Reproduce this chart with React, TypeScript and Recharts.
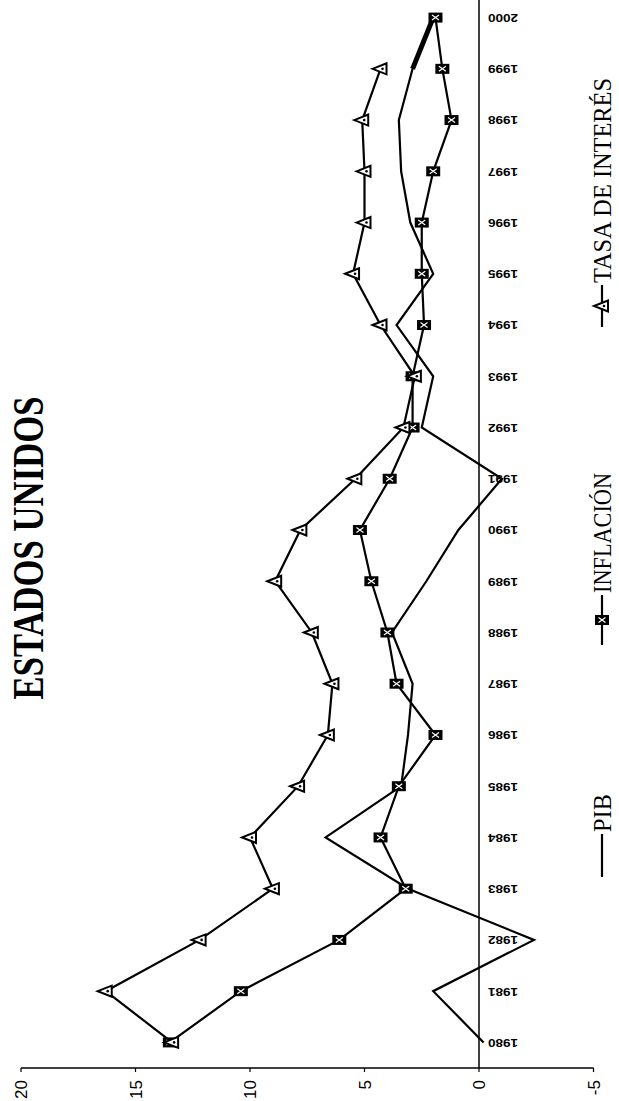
import React from 'react';
import { LineChart, Line, XAxis, YAxis, ReferenceLine, LabelList } from 'recharts';

// Years on the category axis
const years = [
  '1980', '1981', '1982', '1983', '1984', '1985', '1986', '1987', '1988', '1989', '1990',
  '1991', '1992', '1993', '1994', '1995', '1996', '1997', '1998', '1999', '2000',
];

// Series (%)
const pib = [-0.2, 2.0, -2.4, 3.1, 6.7, 3.4, 3.1, 2.9, 3.8, 2.3, 0.9, -1.0, 2.5, 2.0, 3.6, 2.0, 3.0, 3.4, 3.5, 2.9, 2.0];
const inflacion = [13.5, 10.4, 6.1, 3.2, 4.3, 3.5, 1.9, 3.6, 4.0, 4.7, 5.2, 3.9, 2.9, 2.9, 2.4, 2.5, 2.5, 2.0, 1.2, 1.6, 1.9];
const tasaInteres = [13.4, 16.3, 12.2, 9.0, 10.0, 7.9, 6.6, 6.4, 7.3, 8.9, 7.8, 5.4, 3.3, 2.8, 4.3, 5.5, 5.0, 5.0, 5.1, 4.3, null];
// the last PIB segment is printed heavier in the scan
const pibTramoFinal = [null, null, null, null, null, null, null, null, null, null, null, null, null, null, null, null, null, null, null, 2.9, 2.0];

const valueTicks = [-5, 0, 5, 10, 15, 20];

const seriesNames = ['PIB', 'INFLACIÓN', 'TASA DE INTERÉS'];

const data = years.map((year, i) => ({
  year,
  pib: pib[i],
  pibFinal: pibTramoFinal[i],
  inflacion: inflacion[i],
  tasa: tasaInteres[i],
  eje: 0,
}));

// the chart is drawn in landscape and then turned a quarter turn, like the scan
const CHART_W = 1112;
const CHART_H = 619;
const PAGE_H = 1101;

const serif = '"Liberation Serif", "Times New Roman", serif';
const sans = '"Liberation Sans", Arial, sans-serif';

const SquareDot = (props: any) => {
  const { cx, cy } = props;
  if (cx == null || cy == null) return null;
  return (
    <g>
      <rect x={cx - 5} y={cy - 7} width={10} height={14} fill="#000" />
      <path
        d={`M${cx - 2.5},${cy - 3.5} L${cx + 2.5},${cy + 3.5} M${cx + 2.5},${cy - 3.5} L${cx - 2.5},${cy + 3.5}`}
        stroke="#fff"
        strokeWidth={1.2}
      />
    </g>
  );
};

const TriangleDot = (props: any) => {
  const { cx, cy } = props;
  if (cx == null || cy == null) return null;
  return (
    <g>
      <path
        d={`M${cx},${cy - 8} L${cx + 5.5},${cy + 6} L${cx - 5.5},${cy + 6} Z`}
        fill="#fff"
        stroke="#000"
        strokeWidth={2}
      />
      <circle cx={cx} cy={cy + 2} r={1.3} fill="#000" />
    </g>
  );
};

const YearLabel = (props: any) => {
  const { x, y, value } = props;
  if (x == null || y == null) return null;
  const ty = y + 9;
  return (
    <text
      x={x}
      y={ty}
      dy="0.36em"
      transform={`rotate(-90 ${x} ${ty})`}
      textAnchor="end"
      fontFamily={sans}
      fontWeight="bold"
      fontSize={10}
      textLength={30}
      lengthAdjust="spacingAndGlyphs"
      fill="#000"
    >
      {value}
    </text>
  );
};

// legend slots: where each entry starts, its line length and its text length
const legendSlots: Record<string, { x: number; line: number; text: number }> = {
  PIB: { x: 224, line: 43, text: 38 },
  'INFLACIÓN': { x: 456, line: 50, text: 120 },
  'TASA DE INTERÉS': { x: 774, line: 42, text: 205 },
};

const LegendItems = () => {
  const y = 602;
  return (
    <g>
      {seriesNames.map((name) => {
        const s = legendSlots[name];
        const mid = s.x + s.line / 2;
        return (
          <g key={name}>
            <line x1={s.x} y1={y} x2={s.x + s.line} y2={y} stroke="#000" strokeWidth={2.2} />
            {name === 'INFLACIÓN' && <SquareDot cx={mid} cy={y} />}
            {name === 'TASA DE INTERÉS' && <TriangleDot cx={mid} cy={y} />}
            <text
              x={s.x + s.line + 2}
              y={y + 9}
              fontFamily={serif}
              fontSize={25}
              textLength={s.text}
              lengthAdjust="spacingAndGlyphs"
              fill="#000"
            >
              {name}
            </text>
          </g>
        );
      })}
    </g>
  );
};

export default function App() {
  return (
    <div
      style={{
        position: 'absolute',
        left: 0,
        top: 0,
        width: CHART_H,
        height: PAGE_H,
        overflow: 'hidden',
        background: '#fff',
      }}
    >
      <div
        style={{
          position: 'absolute',
          left: 0,
          top: PAGE_H,
          width: CHART_W,
          height: CHART_H,
          transform: 'rotate(-90deg)',
          transformOrigin: '0 0',
        }}
      >
        <LineChart
          width={CHART_W}
          height={CHART_H}
          data={data}
          margin={{ top: 21, right: 3, left: 0, bottom: 25.5 }}
        >
          <XAxis dataKey="year" hide padding={{ left: 25.6, right: 25.6 }} />
          <YAxis
            type="number"
            domain={[-5, 20]}
            ticks={valueTicks}
            interval={0}
            width={33}
            tickSize={4}
            tickMargin={8}
            axisLine={{ stroke: '#000', strokeWidth: 1.5 }}
            tickLine={{ stroke: '#000', strokeWidth: 1.2 }}
            tick={{ fill: '#000', fontSize: 17, fontFamily: sans }}
          />
          <ReferenceLine y={0} stroke="#000" strokeWidth={1.5} />
          <Line
            dataKey="eje"
            stroke="none"
            dot={false}
            activeDot={false}
            legendType="none"
            isAnimationActive={false}
          >
            <LabelList dataKey="year" content={YearLabel} />
          </Line>
          <Line
            name={seriesNames[0]}
            dataKey="pib"
            type="linear"
            stroke="#000"
            strokeWidth={2.2}
            dot={false}
            activeDot={false}
            isAnimationActive={false}
          />
          <Line
            dataKey="pibFinal"
            type="linear"
            stroke="#000"
            strokeWidth={5}
            dot={false}
            activeDot={false}
            legendType="none"
            isAnimationActive={false}
          />
          <Line
            name={seriesNames[1]}
            dataKey="inflacion"
            type="linear"
            stroke="#000"
            strokeWidth={2.2}
            dot={<SquareDot />}
            activeDot={false}
            isAnimationActive={false}
          />
          <Line
            name={seriesNames[2]}
            dataKey="tasa"
            type="linear"
            stroke="#000"
            strokeWidth={2.2}
            dot={<TriangleDot />}
            activeDot={false}
            isAnimationActive={false}
          />
        </LineChart>
        <svg
          width={CHART_W}
          height={CHART_H}
          style={{ position: 'absolute', left: 0, top: 0, pointerEvents: 'none' }}
        >
          <text
            x={553}
            y={43}
            textAnchor="middle"
            fontFamily={serif}
            fontWeight="bold"
            fontSize={44}
            textLength={303}
            lengthAdjust="spacingAndGlyphs"
            fill="#000"
          >
            ESTADOS UNIDOS
          </text>
          <LegendItems />
        </svg>
      </div>
    </div>
  );
}
